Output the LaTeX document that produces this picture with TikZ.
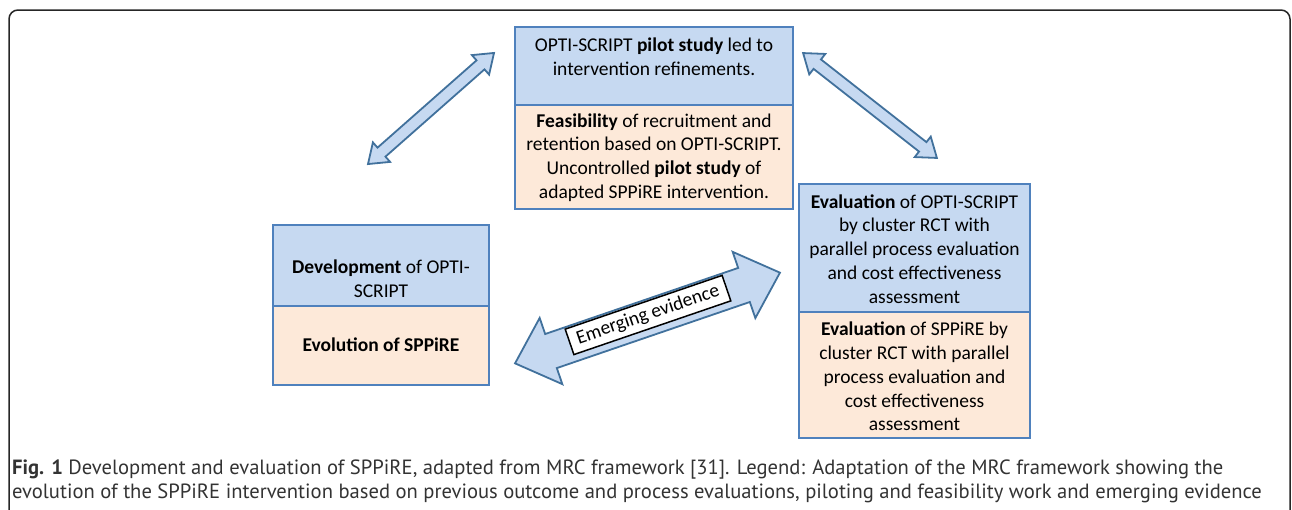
\documentclass[tikz,border=0pt]{standalone}
\usepackage{fontspec}
\setmainfont{Carlito}
\newfontfamily\capfont{PT Sans}
\definecolor{boxblue}{HTML}{C6D9F1}
\definecolor{boxpeach}{HTML}{FDE9D9}
\definecolor{boxline}{HTML}{4F81BD}
\definecolor{arrline}{HTML}{41719C}
\definecolor{captext}{HTML}{333333}
\newcommand\dblarr[7]{% cx cy angle L w h a
  \begin{scope}[shift={(#1,#2)},rotate=#3]
    \draw[arrowshape] ({#4/2},0) -- ({#4/2-#7},#6) -- ({#4/2-#7},#5) -- ({-#4/2+#7},#5)
      -- ({-#4/2+#7},#6) -- ({-#4/2},0) -- ({-#4/2+#7},-#6) -- ({-#4/2+#7},-#5)
      -- ({#4/2-#7},-#5) -- ({#4/2-#7},-#6) -- cycle;
  \end{scope}}
\tikzset{
  bluebox/.style={draw=boxline,fill=boxblue,line width=1.8pt},
  peachbox/.style={draw=boxline,fill=boxpeach,line width=1.8pt},
  boxtext/.style={align=center,inner sep=0pt,font=\fontsize{19.5}{23.8}\selectfont},
  arrowshape/.style={draw=arrline,fill=boxblue,line width=1.8pt,line join=miter},
  caption/.style={anchor=base west,inner sep=0pt,text=captext,font=\capfont\fontsize{20.6}{24}\selectfont}
}
\begin{document}
\begin{tikzpicture}[x=1pt,y=-1pt]
\clip (0,0) rectangle (1292,509);
% outer frame
\draw[line width=1.5pt,draw=black!85,rounded corners=9pt] (9,10) rectangle (1290,540);
% top box
\draw[bluebox] (515,27) rectangle (793,105);
\draw[peachbox] (515,105) rectangle (793,209);
\node[boxtext] (topA) at (654,57) {OPTI-SCRIPT \textbf{pilot study} led to\\intervention refinements.};
\node[boxtext] (topB) at (654,157.5) {\textbf{Feasibility} of recruitment and\\retention based on OPTI-SCRIPT.\\Uncontrolled \textbf{pilot study} of\\adapted SPPiRE intervention.};
% right box
\draw[bluebox] (799,184) rectangle (1030,312);
\draw[peachbox] (799,312) rectangle (1030,438);
\node[boxtext] (rightA) at (914.5,249) {\textbf{Evaluation} of OPTI-SCRIPT\\by cluster RCT with\\parallel process evaluation\\and cost effectiveness\\assessment};
\node[boxtext] (rightB) at (914.5,376.5) {\textbf{Evaluation} of SPPiRE by\\cluster RCT with parallel\\process evaluation and\\cost effectiveness\\assessment};
% left box
\draw[bluebox] (273,225) rectangle (489,306);
\draw[peachbox] (273,306) rectangle (489,385);
\node[boxtext] (leftA) at (381,278.5) {\textbf{Development} of OPTI-\\SCRIPT};
\node[boxtext] (leftB) at (381,345) {\textbf{Evolution of SPPiRE}};
% arrows
\dblarr{431}{108.5}{41.4}{168}{6}{13}{18}
\dblarr{870}{105.5}{-38.1}{170}{6}{13}{18}
\dblarr{647.5}{318}{18.9}{280}{18}{35}{38}
\node[draw=black,fill=white,line width=1.5pt,rotate=18.9,boxtext,inner xsep=8pt,inner ysep=5pt] (ev) at (648,315) {Emerging evidence};
% caption
\node[caption] (cap1) at (12,474) {\textbf{Fig. 1} Development and evaluation of SPPiRE, adapted from MRC framework [31]. Legend: Adaptation of the MRC framework showing the};
\node[caption] (cap2) at (12,498) {evolution of the SPPiRE intervention based on previous outcome and process evaluations, piloting and feasibility work and emerging evidence};
\end{tikzpicture}
\end{document}
